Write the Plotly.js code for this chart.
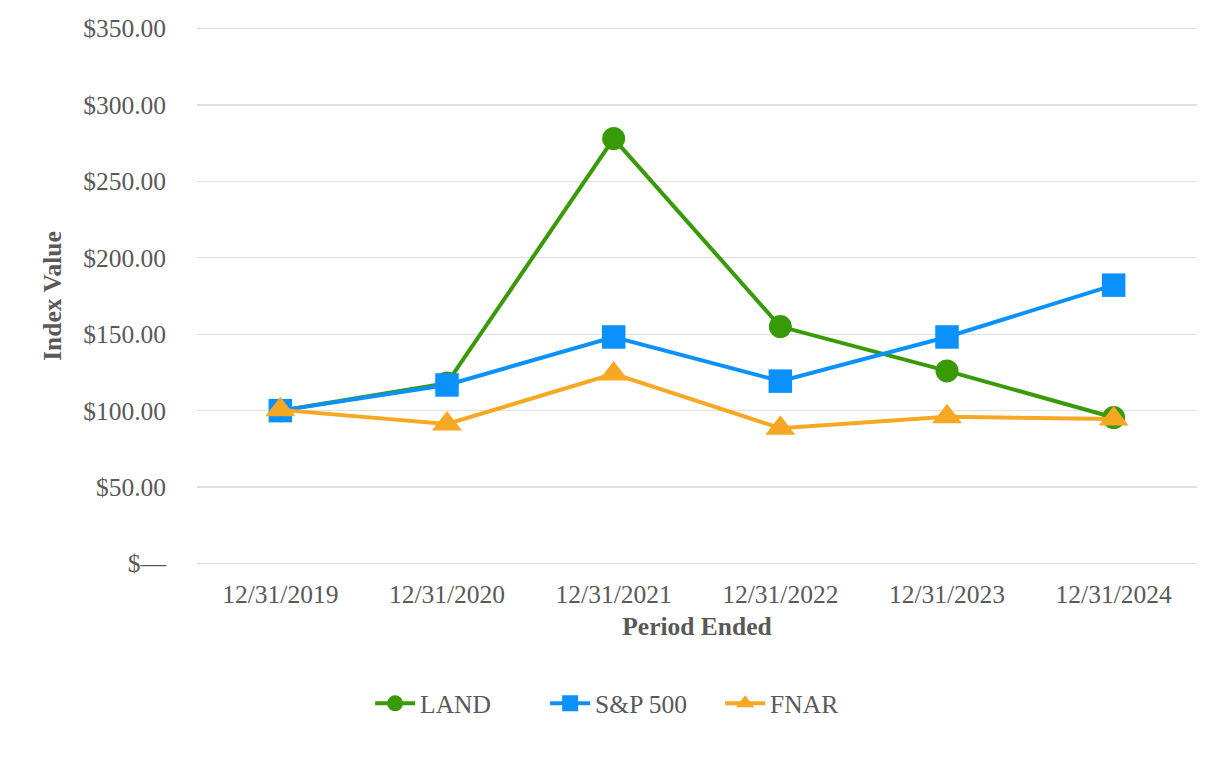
<!DOCTYPE html>
<html>
<head>
<meta charset="utf-8">
<script src="https://cdn.plot.ly/plotly-3.0.1.min.js"></script>
<style>html,body{margin:0;padding:0;background:#fff;}#chart{width:1226px;height:760px;}</style>
</head>
<body>
<div id="chart"></div>
<script>
const periods = ["12/31/2019", "12/31/2020", "12/31/2021", "12/31/2022", "12/31/2023", "12/31/2024"];
const land = [100, 118, 278, 155, 126, 95.5];
const sp500 = [100, 116.8, 148.2, 119.3, 148.2, 182.1];
const fnar = [100.5, 91.3, 124, 88.5, 96, 94.6];
const yTickVals = [0, 50, 100, 150, 200, 250, 300, 350];
const yTickText = ["$\u2014", "$50.00", "$100.00", "$150.00", "$200.00", "$250.00", "$300.00", "$350.00"];

const FONT = "Liberation Serif, Times New Roman, serif";
const TXT = "#595959";

const traces = [
  {name: "LAND", x: periods, y: land, type: "scatter", mode: "lines+markers",
   line: {color: "#399A08", width: 4}, marker: {symbol: "circle", size: 23, color: "#399A08"}},
  {name: "S&P 500", x: periods, y: sp500, type: "scatter", mode: "lines+markers",
   line: {color: "#0A91FB", width: 4}, marker: {symbol: "square", size: 23.5, color: "#0A91FB"}},
  {name: "FNAR", x: periods, y: fnar, type: "scatter", mode: "lines+markers",
   line: {color: "#F7A823", width: 4}, marker: {symbol: "triangle-up", size: 26, color: "#F7A823"}}
];

const layout = {
  width: 1226, height: 760,
  margin: {l: 197, r: 29, t: 27, b: 195},
  paper_bgcolor: "#fff", plot_bgcolor: "#fff",
  font: {family: FONT, color: TXT, size: 25.5},
  showlegend: true,
  legend: {orientation: "h", xref: "container", yref: "container", x: 0.516, xanchor: "center",
           y: 0.074, yanchor: "middle", font: {family: FONT, color: TXT, size: 25.5},
           itemsizing: "trace", traceorder: "normal", entrywidth: 120, entrywidthmode: "pixels",
           itemwidth: 40},
  xaxis: {
    type: "category", range: [-0.5, 5.5], showgrid: false, showline: false, zeroline: false,
    ticks: "", tickfont: {family: FONT, color: TXT, size: 25.5}, ticklabelstandoff: 11,
    title: {text: "<b>Period Ended</b>", font: {family: FONT, color: TXT, size: 25.5}, standoff: 9},
    automargin: false, fixedrange: true
  },
  yaxis: {
    range: [-1, 351], tickvals: yTickVals, ticktext: yTickText,
    showgrid: true, gridcolor: "#E0E0E0", gridwidth: 1.3, zeroline: false, showline: false,
    ticks: "", tickfont: {family: FONT, color: TXT, size: 25.5}, ticklabelstandoff: 30,
    title: {text: "<b>Index Value</b>", font: {family: FONT, color: TXT, size: 25.5}, standoff: 14},
    automargin: false, fixedrange: true
  }
};

Plotly.newPlot("chart", traces, layout, {displayModeBar: false, staticPlot: true});
</script>
</body>
</html>
